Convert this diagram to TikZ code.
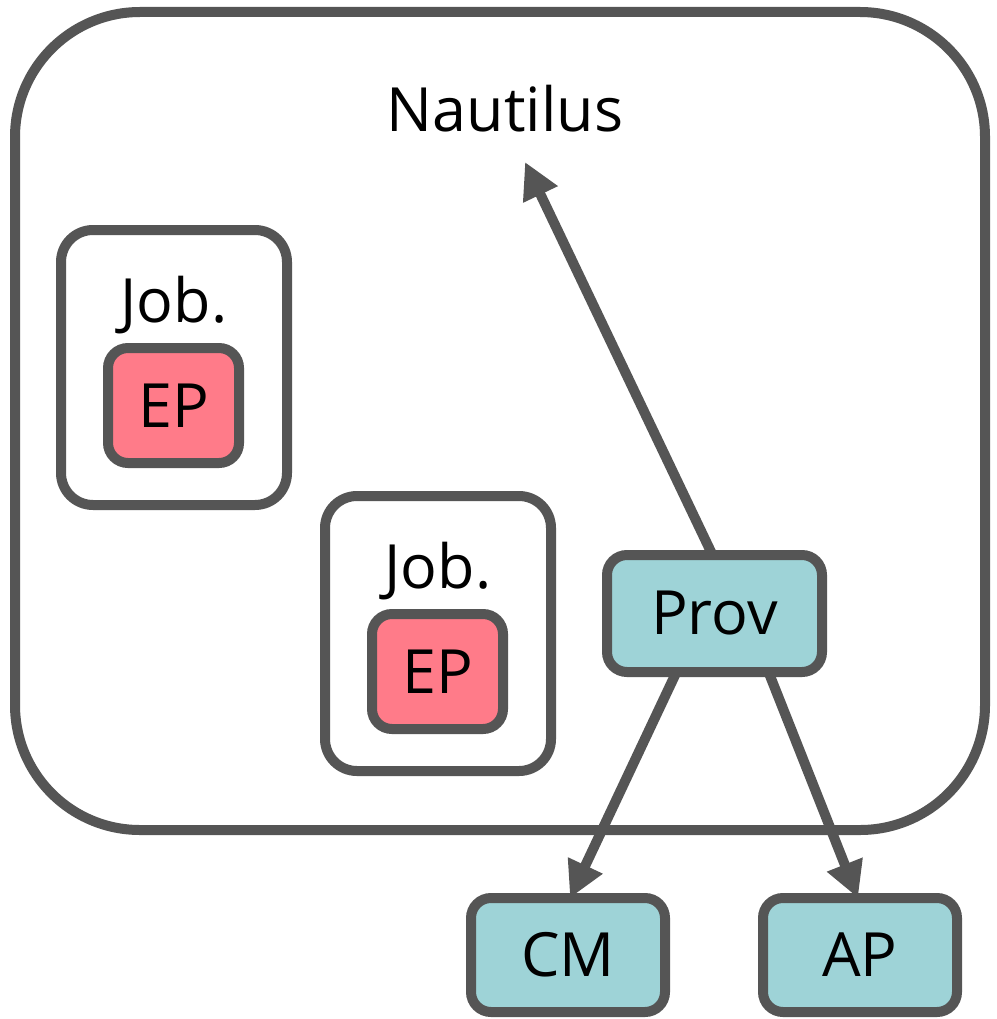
\documentclass[tikz,border=0pt]{standalone}
\usepackage{fontspec}
\setmainfont{Open Sans}
\usetikzlibrary{arrows.meta,calc}
\definecolor{edge}{HTML}{555555}
\definecolor{epfill}{HTML}{FF7B89}
\definecolor{tealfill}{HTML}{9ED3D7}
\begin{document}
\begin{tikzpicture}[x=1pt,y=-1pt,
  every node/.style={font=\fontsize{61}{70}\selectfont, text=black, inner sep=0pt, outer sep=0pt},
  box/.style={draw=edge, line width=10pt, rectangle, align=center},
  jobbox/.style={box, fill=white, minimum width=226pt, minimum height=275pt, rounded corners=32pt},
  epbox/.style={box, fill=epfill, minimum width=131pt, minimum height=115pt, rounded corners=20pt},
  svcbox/.style={box, fill=tealfill, rounded corners=20pt},
  arr/.style={draw=edge, line width=10pt, -{Triangle[length=36pt,width=36pt]}}]
  \useasboundingbox (0,0) rectangle (996,1019);

  % outer container
  \draw[edge, line width=10pt, fill=white, rounded corners=125pt] (15,12) rectangle (985,830);
  \node[anchor=base] (naut) at (505,132) {Nautilus};
  \coordinate (nautin) at (525,162);

  % jobs with their endpoints
  \node[jobbox] (job1) at (174,367.5) {};
  \node[anchor=base] (job1t) at (174,322) {Job.};
  \node[epbox] (ep1) at (173.5,405.5) {EP};

  \node[jobbox] (job2) at (438,633.5) {};
  \node[anchor=base] (job2t) at (438,588) {Job.};
  \node[epbox] (ep2) at (437.5,671.5) {EP};

  % provider and external services
  \node[svcbox, minimum width=215pt, minimum height=117pt] (prov) at (714.5,613.5) {Prov};
  \node[svcbox, minimum width=194pt, minimum height=114pt] (cm) at (568,955) {CM};
  \node[svcbox, minimum width=194pt, minimum height=114pt] (ap) at (860,955) {AP};

  % connectors
  \draw[arr] ($(prov.north)+(-2,0)$) -- (nautin);
  \draw[arr] ($(prov.south)+(-38,0)$) -- ($(cm.north)+(2,0)$);
  \draw[arr] ($(prov.south)+(54,0)$) -- ($(ap.north)+(-2,0)$);
\end{tikzpicture}
\end{document}
